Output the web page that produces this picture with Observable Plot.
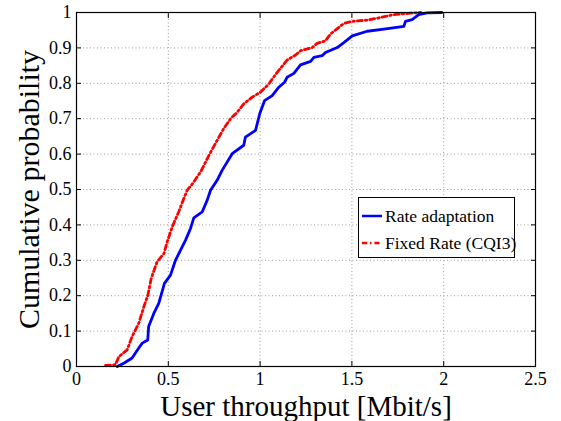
<!DOCTYPE html>
<html>
<head>
<meta charset="utf-8">
<script src="https://cdn.jsdelivr.net/npm/d3@7"></script>
<script src="https://cdn.jsdelivr.net/npm/@observablehq/plot@0.6"></script>
<style>
  html, body { margin: 0; padding: 0; background: #fff; }
  #wrap { position: relative; width: 561px; height: 421px; font-family: "Liberation Serif", "Times New Roman", serif; }
  #wrap svg text { font-family: "Liberation Serif", "Times New Roman", serif !important; }
  #legend { position: absolute; left: 358px; top: 197px; width: 157px; height: 61px; border: 1px solid #000; background: #fff; box-sizing: border-box; font-size: 17.5px; font-family: "Liberation Serif", "Times New Roman", serif; color: #000; }
  .item { position: absolute; left: 0; height: 20px; display: flex; align-items: center; white-space: nowrap; }
  .item svg { margin-left: 3px; margin-right: 3px; }
</style>
</head>
<body>
<div id="wrap"></div>
<script>
const seriesNames = ["Rate adaptation", "Fixed Rate (CQI3)"];
const seriesColors = ["#0000ff", "#ff0000"];
const seriesDash = [null, "5,3,1.5,3"];

const blueX = [0.222,0.26,0.303,0.33,0.358,0.388,0.393,0.421,0.448,0.479,0.512,0.539,0.594,0.621,0.639,0.685,0.712,0.730,0.766,0.793,0.848,0.911,0.920,0.975,0.998,1.024,1.066,1.102,1.133,1.147,1.184,1.220,1.275,1.293,1.338,1.356,1.42,1.456,1.502,1.583,1.674,1.783,1.792,1.828,1.864,1.91,1.99];
const blueY = [0,0.01,0.024,0.045,0.066,0.075,0.113,0.150,0.178,0.235,0.258,0.30,0.357,0.39,0.42,0.437,0.470,0.498,0.526,0.554,0.601,0.625,0.648,0.667,0.714,0.751,0.765,0.789,0.803,0.817,0.828,0.852,0.862,0.873,0.878,0.887,0.901,0.915,0.934,0.947,0.953,0.961,0.975,0.980,0.994,0.999,1.0];

const redX = [0.158,0.212,0.231,0.276,0.303,0.339,0.367,0.389,0.407,0.439,0.476,0.494,0.521,0.557,0.584,0.603,0.63,0.675,0.721,0.766,0.802,0.839,0.875,0.911,0.957,1.002,1.047,1.093,1.148,1.193,1.22,1.257,1.284,1.311,1.356,1.383,1.429,1.456,1.502,1.592,1.656,1.728,1.819,1.874];
const redY = [0.003,0.005,0.028,0.047,0.085,0.122,0.169,0.202,0.249,0.296,0.319,0.352,0.394,0.437,0.474,0.498,0.515,0.549,0.596,0.639,0.672,0.700,0.718,0.742,0.761,0.775,0.798,0.831,0.866,0.880,0.892,0.897,0.901,0.913,0.920,0.939,0.958,0.969,0.975,0.979,0.986,0.994,0.998,1.0];

const xTicks = [0, 0.5, 1, 1.5, 2, 2.5];
const yTicks = [0, 0.1, 0.2, 0.3, 0.4, 0.5, 0.6, 0.7, 0.8, 0.9, 1];
const xLabel = "User throughput [Mbit/s]";
const yLabel = "Cumulative probability";

const blue = blueX.map((x, i) => ({x, y: blueY[i]}));
const red = redX.map((x, i) => ({x, y: redY[i]}));

const serif = "'Liberation Serif', 'Times New Roman', serif";
const fmt = d => String(d);
const gridStyle = {stroke: "#9a9a9a", strokeOpacity: 1, strokeDasharray: "1,2.5", strokeWidth: 1};

const chart = Plot.plot({
  width: 561,
  height: 421,
  marginLeft: 76,
  marginRight: 26,
  marginTop: 12,
  marginBottom: 55,
  style: {fontFamily: serif, background: "#fff", color: "#000"},
  x: {domain: [0, 2.5]},
  y: {domain: [0, 1]},
  marks: [
    Plot.gridX(xTicks, gridStyle),
    Plot.gridY(yTicks, gridStyle),
    Plot.line(red, {x: "x", y: "y", stroke: seriesColors[1], strokeWidth: 2.8, strokeDasharray: seriesDash[1], strokeLinejoin: "round"}),
    Plot.line(blue, {x: "x", y: "y", stroke: seriesColors[0], strokeWidth: 2.8, strokeLinejoin: "round"}),
    Plot.frame({stroke: "#000", strokeWidth: 1.2}),
    Plot.axisX(xTicks, {anchor: "bottom", tickSize: 0, tickPadding: 6, tickFormat: fmt, fontSize: 18, fontFamily: serif, label: null}),
    Plot.axisY(yTicks, {anchor: "left", tickSize: 0, tickPadding: 5, tickFormat: fmt, fontSize: 18, fontFamily: serif, label: null}),
    Plot.axisX(xTicks, {anchor: "bottom", tickSize: -5, tickFormat: () => "", label: null}),
    Plot.axisX(xTicks, {anchor: "top", tickSize: -5, tickFormat: () => "", label: null}),
    Plot.axisY(yTicks, {anchor: "left", tickSize: -5, tickFormat: () => "", label: null}),
    Plot.axisY(yTicks, {anchor: "right", tickSize: -5, tickFormat: () => "", label: null}),
    Plot.text([xLabel], {frameAnchor: "bottom", dy: 40, text: d => d, fontSize: 29, fontFamily: serif, textAnchor: "middle", lineAnchor: "middle", fill: "#000"}),
    Plot.text([yLabel], {frameAnchor: "left", dx: -47, text: d => d, fontSize: 30, fontFamily: serif, rotate: -90, textAnchor: "middle", lineAnchor: "middle", fill: "#000"})
  ]
});

const wrap = document.getElementById("wrap");
wrap.appendChild(chart);

const legend = document.createElement("div");
legend.id = "legend";
seriesNames.forEach((name, i) => {
  const item = document.createElement("div");
  item.className = "item";
  item.style.top = (i === 0 ? 8 : 35) + "px";
  const ns = "http://www.w3.org/2000/svg";
  const sw = document.createElementNS(ns, "svg");
  sw.setAttribute("width", "20");
  sw.setAttribute("height", "6");
  const ln = document.createElementNS(ns, "line");
  ln.setAttribute("x1", "0"); ln.setAttribute("x2", "20");
  ln.setAttribute("y1", "3"); ln.setAttribute("y2", "3");
  ln.setAttribute("stroke", seriesColors[i]);
  ln.setAttribute("stroke-width", "2.5");
  if (seriesDash[i]) ln.setAttribute("stroke-dasharray", seriesDash[i]);
  sw.appendChild(ln);
  const t = document.createElement("span");
  t.textContent = name;
  item.appendChild(sw);
  item.appendChild(t);
  legend.appendChild(item);
});
wrap.appendChild(legend);
</script>
</body>
</html>
